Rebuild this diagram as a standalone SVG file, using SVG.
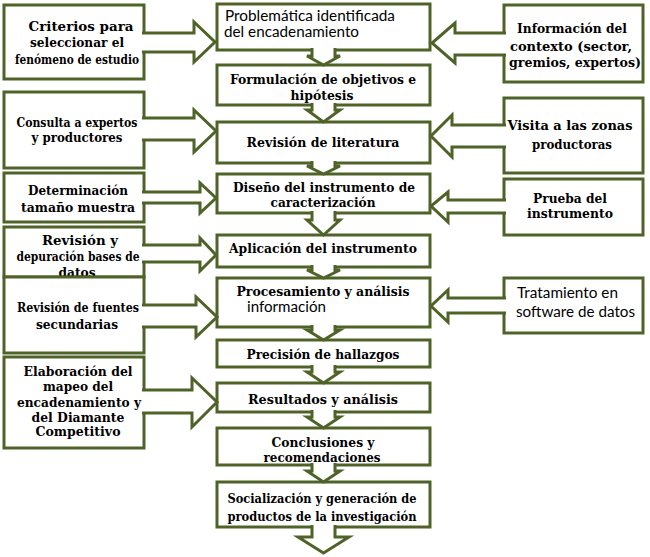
<svg xmlns="http://www.w3.org/2000/svg" width="650" height="557" viewBox="0 0 650 557">
<style>
.b{fill:#fff;stroke:#4F6228;stroke-width:3}
.a{fill:#fff;stroke:#4F6228;stroke-width:3;stroke-linejoin:miter}
.s{font-family:"DejaVu Serif","Liberation Serif",serif;font-weight:bold;font-size:12px;fill:#000;text-anchor:middle}
.n{font-family:Lato,"Liberation Sans",sans-serif;font-size:14.5px;fill:#000}
</style>
<rect width="650" height="557" fill="#fff"/>
<g id="nodes-center">
<g id="problematica"><rect class="b" x="217" y="4" width="213" height="46"/>
<text class="n" x="225" y="21" textLength="170" lengthAdjust="spacingAndGlyphs">Problemática identificada</text>
<text class="n" x="224" y="37" textLength="135" lengthAdjust="spacingAndGlyphs">del encadenamiento</text></g>
<g id="formulacion"><text class="s" x="323" y="84" textLength="186" lengthAdjust="spacingAndGlyphs">Formulación de objetivos e</text>
<text class="s" x="322" y="100" textLength="63" lengthAdjust="spacingAndGlyphs">hipótesis</text>
<rect class="b" x="217" y="65" width="213" height="40" style="fill:none"/></g>
<g id="revision-literatura"><rect class="b" x="217" y="122" width="213" height="41"/>
<text class="s" x="323" y="147" textLength="153" lengthAdjust="spacingAndGlyphs">Revisión de literatura</text></g>
<g id="diseno"><rect class="b" x="217" y="174" width="213" height="39"/>
<text class="s" x="324" y="192" textLength="182" lengthAdjust="spacingAndGlyphs">Diseño del instrumento de</text>
<text class="s" x="323" y="207" textLength="105" lengthAdjust="spacingAndGlyphs">caracterización</text></g>
<g id="aplicacion"><rect class="b" x="217" y="235" width="213" height="32"/>
<text class="s" x="323" y="253" textLength="188" lengthAdjust="spacingAndGlyphs">Aplicación del instrumento</text></g>
<g id="procesamiento"><rect class="b" x="217" y="278" width="213" height="49"/>
<text class="s" x="323" y="296" textLength="173" lengthAdjust="spacingAndGlyphs">Procesamiento y análisis</text>
<text class="n" x="247" y="312" textLength="79" lengthAdjust="spacingAndGlyphs">información</text></g>
<g id="precision"><rect class="b" x="217" y="340" width="213" height="27"/>
<text class="s" x="323" y="359" textLength="153" lengthAdjust="spacingAndGlyphs">Precisión de hallazgos</text></g>
<g id="resultados"><rect class="b" x="217" y="383" width="213" height="29"/>
<text class="s" x="323" y="404" textLength="150" lengthAdjust="spacingAndGlyphs">Resultados y análisis</text></g>
<g id="conclusiones"><rect class="b" x="217" y="428" width="213" height="37"/>
<text class="s" x="323" y="447" textLength="103" lengthAdjust="spacingAndGlyphs">Conclusiones y</text>
<text class="s" x="322" y="462" textLength="117" lengthAdjust="spacingAndGlyphs">recomendaciones</text></g>
<g id="socializacion"><rect class="b" x="217" y="482" width="213" height="45"/>
<text class="s" x="322" y="503" textLength="189" lengthAdjust="spacingAndGlyphs">Socialización y generación de</text>
<text class="s" x="322" y="521" textLength="189" lengthAdjust="spacingAndGlyphs">productos de la investigación</text></g>
</g>
<g id="nodes-left">
<g id="criterios"><rect class="b" x="4" y="5" width="140" height="74"/>
<text class="s" x="81" y="31" textLength="105" lengthAdjust="spacingAndGlyphs">Criterios para</text>
<text class="s" x="77" y="47" textLength="94" lengthAdjust="spacingAndGlyphs">seleccionar el</text>
<text class="s" x="77" y="64" textLength="124" lengthAdjust="spacingAndGlyphs">fenómeno de estudio</text></g>
<g id="consulta"><rect class="b" x="4" y="92" width="140" height="76"/>
<text class="s" x="77" y="127" textLength="121" lengthAdjust="spacingAndGlyphs">Consulta a expertos</text>
<text class="s" x="77" y="142" textLength="91" lengthAdjust="spacingAndGlyphs">y productores</text></g>
<g id="determinacion"><rect class="b" x="4" y="173" width="140" height="49"/>
<text class="s" x="78" y="195" textLength="100" lengthAdjust="spacingAndGlyphs">Determinación</text>
<text class="s" x="78" y="212" textLength="114" lengthAdjust="spacingAndGlyphs">tamaño muestra</text></g>
<g id="depuracion"><rect class="b" x="4" y="227" width="140" height="50"/>
<text class="s" x="80" y="245" textLength="76" lengthAdjust="spacingAndGlyphs">Revisión y</text>
<text class="s" x="78" y="261" textLength="123" lengthAdjust="spacingAndGlyphs">depuración bases de</text>
<text class="s" x="77" y="277" textLength="37" lengthAdjust="spacingAndGlyphs">datos</text></g>
<g id="fuentes"><rect class="b" x="4" y="277" width="140" height="76"/>
<text class="s" x="78" y="312" textLength="122" lengthAdjust="spacingAndGlyphs">Revisión de fuentes</text>
<text class="s" x="77" y="329" textLength="82" lengthAdjust="spacingAndGlyphs">secundarias</text></g>
<g id="elaboracion"><rect class="b" x="4" y="357" width="140" height="91"/>
<text class="s" x="78" y="376" textLength="109" lengthAdjust="spacingAndGlyphs">Elaboración del</text>
<text class="s" x="78" y="391" textLength="70" lengthAdjust="spacingAndGlyphs">mapeo del</text>
<text class="s" x="79" y="407" textLength="124" lengthAdjust="spacingAndGlyphs">encadenamiento y</text>
<text class="s" x="78" y="422" textLength="93" lengthAdjust="spacingAndGlyphs">del Diamante</text>
<text class="s" x="78" y="436" textLength="85" lengthAdjust="spacingAndGlyphs">Competitivo</text></g>
</g>
<g id="nodes-right">
<g id="informacion"><rect class="b" x="504" y="5" width="139" height="77"/>
<text class="s" x="572" y="33" textLength="110" lengthAdjust="spacingAndGlyphs">Información del</text>
<text class="s" x="571" y="51" textLength="122" lengthAdjust="spacingAndGlyphs">contexto (sector,</text>
<text class="s" x="575" y="67" textLength="132" lengthAdjust="spacingAndGlyphs">gremios, expertos)</text></g>
<g id="visita"><rect class="b" x="504" y="98" width="139" height="75"/>
<text class="s" x="570" y="130" textLength="125" lengthAdjust="spacingAndGlyphs">Visita a las zonas</text>
<text class="s" x="572" y="149" textLength="80" lengthAdjust="spacingAndGlyphs">productoras</text></g>
<g id="prueba"><rect class="b" x="504" y="179" width="139" height="56"/>
<text class="s" x="570" y="203" textLength="74" lengthAdjust="spacingAndGlyphs">Prueba del</text>
<text class="s" x="570" y="218" textLength="86" lengthAdjust="spacingAndGlyphs">instrumento</text></g>
<g id="tratamiento"><rect class="b" x="504" y="278" width="139" height="55"/>
<text class="n" x="517" y="298" textLength="101" lengthAdjust="spacingAndGlyphs">Tratamiento en</text>
<text class="n" x="516" y="317" textLength="119" lengthAdjust="spacingAndGlyphs">software de datos</text></g>
</g>
<g id="connectors">
<path class="a" d="M142,33 H194 V22 L215,42 L194,62 V52 H142"/>
<path class="a" d="M142,118 H194 V110 L216,131 L194,152 V140 H142"/>
<path class="a" d="M142,192 H200 V183 L216,198 L200,213 V203 H142"/>
<path class="a" d="M142,245 H200 V238 L216,255 L200,271 V262 H142"/>
<path class="a" d="M142,305 H196 V297 L217,317 L196,337 V327 H142"/>
<path class="a" d="M142,390 H192 V378 L217,402 L192,427 V413 H142"/>
<path class="a" d="M506,33 H455 V23 L432,43 L455,63 V55 H506"/>
<path class="a" d="M506,125 H452 V115 L431,136 L452,157 V147 H506"/>
<path class="a" d="M506,200 H448 V192 L431,206 L448,222 V213 H506"/>
<path class="a" d="M506,298 H448 V290 L431,306 L448,322 V313 H506"/>
<path class="a" d="M312,48 V56 H307 L323.5,65 L340,56 H335 V48"/>
<path class="a" d="M312,103 V110 H307 L323.5,122 L340,110 H335 V103"/>
<path class="a" d="M312,161 V166 H307 L323.5,174 L340,166 H335 V161"/>
<path class="a" d="M312,211 V220 H307 L323.5,235 L340,220 H335 V211"/>
<path class="a" d="M312,265 V270 H307 L323.5,278 L340,270 H335 V265"/>
<path class="a" d="M312,325 V330 H307 L323.5,340 L340,330 H335 V325"/>
<path class="a" d="M312,365 V372 H307 L323.5,383 L340,372 H335 V365"/>
<path class="a" d="M312,410 V417 H307 L323.5,428 L340,417 H335 V410"/>
<path class="a" d="M312,463 V471 H307 L323.5,482 L340,471 H335 V463"/>
<path class="a" d="M312,525 V537 H298 L323.5,553 L349,537 H335 V525"/>
</g>
</svg>
